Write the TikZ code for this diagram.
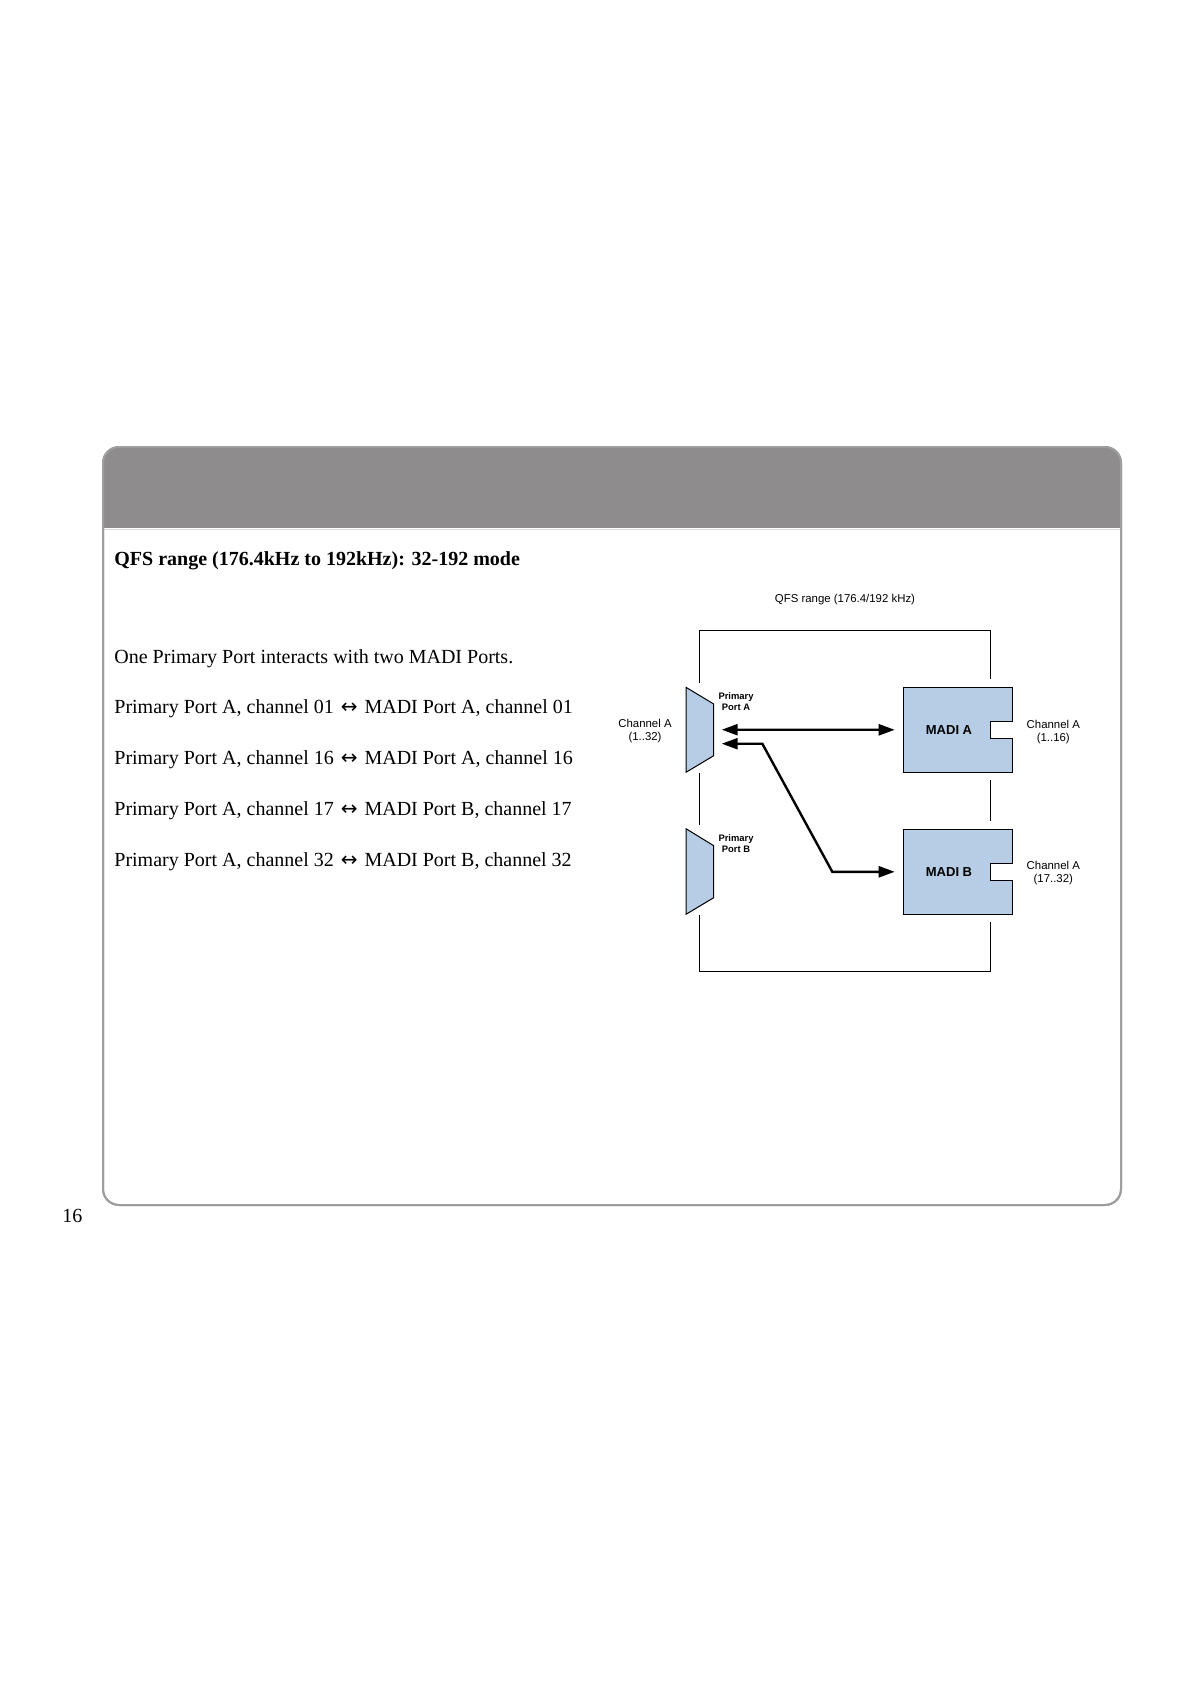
\documentclass[tikz,border=0pt]{standalone}
\usepackage{fontspec}
\setmainfont{Liberation Serif}
\newfontfamily\diagfont{Liberation Sans}
\newfontfamily\arrowfont{DejaVu Sans}
\usetikzlibrary{arrows.meta}
\definecolor{hdrgray}{RGB}{142,140,141}
\definecolor{rimgray}{RGB}{158,158,158}
\definecolor{portblue}{RGB}{182,205,229}
\newcommand{\bothways}{\kern1pt{\arrowfont\fontsize{10}{12}\selectfont ↔}\kern1pt}

\begin{document}
\begin{tikzpicture}[
    x=0.5pt, y=-0.5pt,
    body/.style={
        anchor=base west,
        inner sep=0pt,
        font=\fontsize{10}{12}\selectfont
    },
    lbl/.style={
        align=center,
        inner sep=0pt,
        font=\diagfont\fontsize{5.7}{6.5}\selectfont
    },
    plbl/.style={
        align=center,
        inner sep=0pt,
        font=\diagfont\bfseries\fontsize{4.7}{5.3}\selectfont
    },
    madibox/.style={
        draw=black,
        line width=0.6pt,
        fill=portblue,
        minimum width=54.7pt,
        minimum height=42.5pt,
        inner sep=0pt
    },
    madilbl/.style={
        inner sep=0pt,
        font=\diagfont\bfseries\fontsize{6.5}{7.5}\selectfont
    },
    port/.style={
        draw=black,
        line width=0.5pt,
        fill=portblue
    },
    frame/.style={
        line width=0.5pt
    },
    link/.style={
        {Triangle[length=8pt,width=5.5pt]}-{Triangle[length=8pt,width=5.5pt]},
        line width=1.2pt,
        shorten >=4pt
    }
]
\useasboundingbox (0,0) rectangle (1191,1684);

% page panel
\draw[rimgray, line width=1pt, fill=white, rounded corners=8pt] (103,447) rectangle (1121,1205);
\begin{scope}
    \clip[rounded corners=8pt] (103,447) rectangle (1121,1205);
    \fill[hdrgray] (103,447) rectangle (1121,528);
\end{scope}
\draw[gray!30, line width=0.5pt] (104,529) -- (1120,529);
\draw[rimgray, line width=1pt, rounded corners=8pt] (103,447) rectangle (1121,1205);

% text
\node[body, font=\bfseries\fontsize{10}{12}\selectfont] (title) at (114,565) {QFS range (176.4kHz to 192kHz): 32-192 mode};
\node[body] (intro) at (114,663.5) {One Primary Port interacts with two MADI Ports.};
\node[body] (mapOne) at (114,713.5) {Primary Port A, channel 01 \bothways{} MADI Port A, channel 01};
\node[body] (mapTwo) at (114,764.5) {Primary Port A, channel 16 \bothways{} MADI Port A, channel 16};
\node[body] (mapThree) at (114,815.5) {Primary Port A, channel 17 \bothways{} MADI Port B, channel 17};
\node[body] (mapFour) at (114,866.5) {Primary Port A, channel 32 \bothways{} MADI Port B, channel 32};
\node[body] (pageno) at (62,1222) {16};

% diagram
\node[lbl] (range) at (845,600) {QFS range (176.4/192 kHz)};

\draw[frame] (699.3,683) -- (699.3,630.7) -- (990.3,630.7) -- (990.3,679);
\draw[frame] (699.3,773) -- (699.3,825);
\draw[frame] (699.3,915) -- (699.3,971) -- (990.3,971) -- (990.3,921.7);
\draw[frame] (990.3,780) -- (990.3,820.7);

\draw[port] (686,687.3) -- (713.7,704) -- (713.7,755.7) -- (686,772.3) -- cycle;
\draw[port] (686,828.7) -- (713.7,845.7) -- (713.7,897.7) -- (686,914.3) -- cycle;

\node[plbl] (portA) at (736,701.8) {Primary\\Port A};
\node[plbl] (portB) at (736,843.8) {Primary\\Port B};
\node[lbl] (chanIn) at (645,731.5) {Channel A\\(1..32)};

\node[madibox] (madiA) at (958,729.8) {};
\node[madibox] (madiB) at (958,871.8) {};
\fill[white] (990.3,721.7) rectangle (1015,738.7);
\draw[line width=0.6pt] (1012.7,721.7) -| (990.3,738.7) -- (1012.7,738.7);
\fill[white] (990.3,863.3) rectangle (1015,880.7);
\draw[line width=0.6pt] (1012.7,863.3) -| (990.3,880.7) -- (1012.7,880.7);
\node[madilbl] (madiAlbl) at (949,729.8) {MADI A};
\node[madilbl] (madiBlbl) at (949,871.8) {MADI B};

\node[lbl] (chanA) at (1053.3,732.5) {Channel A\\(1..16)};
\node[lbl] (chanB) at (1053.3,873.5) {Channel A\\(17..32)};

\coordinate (pA1) at (721.7,729.7);
\coordinate (pA2) at (721.7,743.7);
\coordinate (bendA) at (762.3,743.7);
\coordinate (bendB) at (832.3,871.8);

\draw[link] (pA1) -- (madiA.west);
\draw[link] (pA2) -- (bendA) -- (bendB) -- (madiB.west);

\end{tikzpicture}
\end{document}
